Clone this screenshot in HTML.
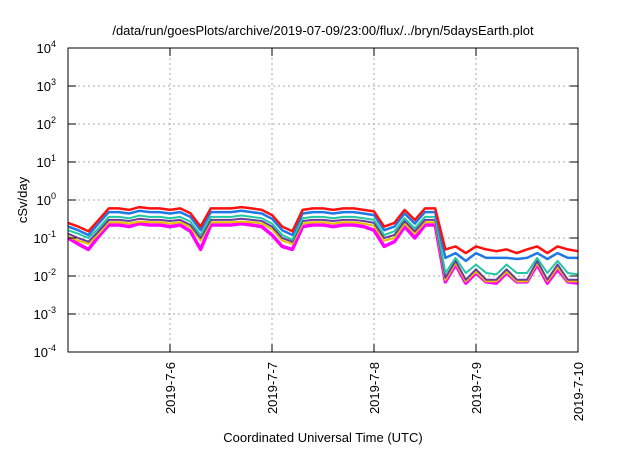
<!DOCTYPE html>
<html><head><meta charset="utf-8"><style>
body{margin:0;background:#fff;}
svg text{font-family:"Liberation Sans",sans-serif;fill:#000;}
</style></head><body>
<svg id="c" width="640" height="448" xmlns="http://www.w3.org/2000/svg">
<text x="323" y="35" font-size="13" text-anchor="middle">/data/run/goesPlots/archive/2019-07-09/23:00/flux/../bryn/5daysEarth.plot</text>
<text x="323" y="442" font-size="13" text-anchor="middle">Coordinated Universal Time (UTC)</text>
<text transform="translate(27,200) rotate(-90)" font-size="13" text-anchor="middle">cSv/day</text>
<g id="grid"></g><g id="series"></g><g id="axes"></g>
</svg>
<script>
const xTicks=["2019-7-6","2019-7-7","2019-7-8","2019-7-9","2019-7-10"];
const yExps=[-4,-3,-2,-1,0,1,2,3,4];
const red=[0.25,0.2,0.15,0.3,0.6,0.6,0.55,0.65,0.6,0.6,0.55,0.6,0.45,0.2,0.6,0.6,0.6,0.65,0.6,0.55,0.4,0.2,0.15,0.55,0.6,0.6,0.55,0.6,0.6,0.55,0.5,0.2,0.25,0.55,0.3,0.6,0.6,0.05,0.06,0.04,0.06,0.05,0.045,0.05,0.04,0.05,0.06,0.04,0.06,0.05,0.045];
const blue=[0.2,0.16,0.12,0.24,0.48,0.48,0.44,0.52,0.48,0.48,0.44,0.48,0.36,0.16,0.48,0.48,0.48,0.52,0.48,0.44,0.32,0.16,0.12,0.44,0.48,0.48,0.44,0.48,0.48,0.44,0.4,0.16,0.2,0.44,0.24,0.48,0.48,0.03,0.04,0.025,0.04,0.03,0.03,0.03,0.028,0.03,0.04,0.028,0.04,0.03,0.03];
const teal=[0.16,0.13,0.1,0.18,0.36,0.36,0.33,0.39,0.36,0.36,0.33,0.36,0.27,0.12,0.36,0.36,0.36,0.39,0.36,0.33,0.24,0.12,0.09,0.33,0.36,0.36,0.33,0.36,0.36,0.33,0.3,0.12,0.15,0.33,0.18,0.36,0.36,0.012,0.03,0.012,0.02,0.012,0.011,0.02,0.012,0.012,0.03,0.012,0.025,0.012,0.011];
const purple=[0.13,0.1,0.08,0.15,0.3,0.3,0.28,0.32,0.3,0.3,0.28,0.3,0.22,0.1,0.3,0.3,0.3,0.32,0.3,0.28,0.2,0.1,0.08,0.28,0.3,0.3,0.28,0.3,0.3,0.28,0.25,0.1,0.12,0.28,0.15,0.3,0.3,0.009,0.025,0.008,0.015,0.008,0.008,0.015,0.008,0.008,0.025,0.008,0.02,0.008,0.008];
const yellow=[0.11,0.085,0.07,0.13,0.26,0.26,0.24,0.27,0.26,0.26,0.24,0.26,0.19,0.085,0.26,0.26,0.26,0.27,0.26,0.24,0.17,0.085,0.07,0.24,0.26,0.26,0.24,0.26,0.26,0.24,0.21,0.085,0.1,0.24,0.13,0.26,0.26,0.0078,0.022,0.0072,0.013,0.0072,0.0072,0.013,0.0072,0.0072,0.022,0.0072,0.017,0.0072,0.0072];
const magenta=[0.1,0.07,0.05,0.11,0.22,0.22,0.2,0.24,0.22,0.22,0.2,0.22,0.15,0.05,0.22,0.22,0.22,0.24,0.22,0.2,0.12,0.06,0.05,0.2,0.22,0.22,0.2,0.22,0.22,0.2,0.16,0.06,0.08,0.2,0.1,0.22,0.22,0.007,0.02,0.0065,0.012,0.007,0.0065,0.012,0.007,0.007,0.02,0.0065,0.015,0.007,0.0065];
const NS="http://www.w3.org/2000/svg";
const L=68,R=578,T=48,B=352;
const xs=d=>L+(R-L)*d/5;
const ys=v=>B-(Math.log10(v)+4)*(B-T)/8;
function mk(tag,attrs,parent){const e=document.createElementNS(NS,tag);for(const k in attrs)e.setAttribute(k,attrs[k]);parent.appendChild(e);return e;}
const grid=document.getElementById('grid'),ser=document.getElementById('series'),ax=document.getElementById('axes');
yExps.forEach(p=>{const y=B-(p+4)*(B-T)/8;
 if(p>-4&&p<4){const g=mk('line',{x1:L,x2:R,y1:y,y2:y,stroke:'#aaa','stroke-dasharray':'2,3'},grid);
 
 }
 const t=mk('line',{x1:L,x2:L+8,y1:y,y2:y,stroke:'#000'},ax);
 
 
 mk('line',{x1:R-8,x2:R,y1:y,y2:y,stroke:'#000'},ax);
 const tx=mk('text',{x:56,y:y+5,'font-size':13,'text-anchor':'end'},ax);
 
 
 tx.textContent='10';
 const s=mk('tspan',{dy:-6,'font-size':9},tx);s.textContent=String(p);
});
xTicks.forEach((lab,i)=>{const x=xs(i+1);
 if(i<4){const g=mk('line',{x1:x,x2:x,y1:T,y2:B,stroke:'#aaa','stroke-dasharray':'2,3'},grid);
 
 }
 mk('line',{x1:x,x2:x,y1:B-8,y2:B,stroke:'#000'},ax);
 mk('line',{x1:x,x2:x,y1:T,y2:T+8,stroke:'#000'},ax);
 const t=mk('text',{transform:`translate(${x+5},362) rotate(-90)`,'font-size':13,'text-anchor':'end'},ax);
 
 
 t.textContent=lab;
});
const frame=mk('rect',{x:L,y:T,width:R-L,height:B-T,fill:'none',stroke:'#000'},ax);


const list=[[magenta,'#ff00ff',3.5,'series-magenta'],[yellow,'#e8c000',2,'series-yellow'],[purple,'#6a3d9a',2,'series-purple'],[teal,'#20c8a0',2,'series-teal'],[blue,'#1e78e6',2.5,'series-blue'],[red,'#ff1010',2.5,'series-red']];
list.forEach(([arr,c,w,n])=>{const pts=arr.map((v,i)=>xs(i*5/(arr.length-1)).toFixed(1)+','+ys(v).toFixed(1)).join(' ');
 const p=mk('polyline',{points:pts,fill:'none',stroke:c,'stroke-width':w,'stroke-linejoin':'round'},ser);
 
 
});
</script>
</body></html>
